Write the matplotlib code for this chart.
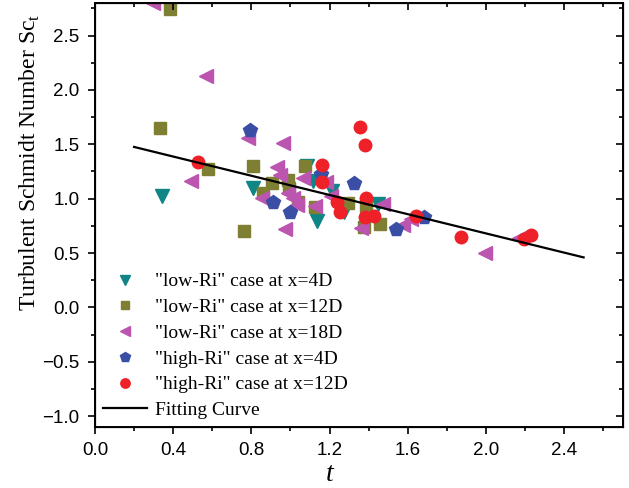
import numpy as np
import matplotlib
matplotlib.use("Agg")
import matplotlib.pyplot as plt
from matplotlib.ticker import MultipleLocator

# "low-Ri" case at x=4D
lo4_t = [0.344, 0.81, 1.087, 1.118, 1.138, 1.215, 1.272, 1.446]
lo4_sc = [1.02, 1.10, 1.30, 1.16, 0.79, 1.07, 0.88, 0.95]

# "low-Ri" case at x=12D
lo12_t = [0.385, 0.333, 0.58, 0.81, 0.764, 0.862, 0.908, 0.99, 0.995, 1.04,
          1.077, 1.128, 1.297, 1.385, 1.374, 1.456]
lo12_sc = [2.74, 1.65, 1.27, 1.30, 0.70, 1.05, 1.14, 1.17, 1.10, 0.97,
           1.30, 0.92, 0.96, 0.93, 0.74, 0.77]

# "low-Ri" case at x=18D
lo18_t = [0.297, 0.569, 0.492, 0.785, 0.964, 0.933, 0.949, 0.856, 0.99, 1.015,
          1.036, 1.062, 1.128, 0.974, 1.18, 1.205, 1.472, 1.359, 1.574, 1.615,
          1.995, 2.17]
lo18_sc = [2.80, 2.13, 1.16, 1.56, 1.51, 1.29, 1.22, 1.01, 1.055, 1.01,
           0.945, 1.19, 0.93, 0.72, 1.15, 1.02, 0.95, 0.73, 0.76, 0.81,
           0.50, 0.64]

# "high-Ri" case at x=4D
hi4_t = [0.795, 0.913, 1.0, 1.154, 1.323, 1.538, 1.682]
hi4_sc = [1.63, 0.97, 0.88, 1.23, 1.14, 0.72, 0.83]

# "high-Ri" case at x=12D
hi12_t = [0.528, 1.164, 1.164, 1.236, 1.256, 1.354, 1.379, 1.385, 1.38, 1.426,
          1.641, 1.872, 2.195, 2.231]
hi12_sc = [1.34, 1.31, 1.15, 0.97, 0.88, 1.66, 1.49, 1.01, 0.83, 0.84,
           0.84, 0.65, 0.625, 0.67]

# fitting curve: Sc_t = a + b*t, over t in [0.2, 2.5]
fit_a, fit_b = 1.564, -0.4417
fit_range = [0.2, 2.5]

sans = ["Liberation Sans", "DejaVu Sans"]
serif = ["Liberation Serif", "DejaVu Serif"]

fig = plt.figure(figsize=(6.29, 4.88), dpi=100)
ax = fig.add_axes([0.151, 0.125, 0.839, 0.869])

ax.plot(lo4_t, lo4_sc, "v", color="#0f8585", ms=10, ls="none",
        label='"low-Ri" case at x=4D')
ax.plot(lo12_t, lo12_sc, "s", color="#7f7f33", ms=8, ls="none",
        label='"low-Ri" case at x=12D')
ax.plot(lo18_t, lo18_sc, "<", color="#bb55b0", ms=10, ls="none",
        label='"low-Ri" case at x=18D')
ax.plot(hi4_t, hi4_sc, "p", color="#3a4ea6", ms=10, ls="none",
        label='"high-Ri" case at x=4D')
ax.plot(hi12_t, hi12_sc, "o", color="#ee2028", ms=9, ls="none",
        label='"high-Ri" case at x=12D')
tt = np.array(fit_range)
ax.plot(tt, fit_a + fit_b * tt, color="black", lw=1.6, label="Fitting Curve")

ax.set_xlim(0, 2.7)
ax.set_ylim(-1.1, 2.8)
ax.xaxis.set_major_locator(MultipleLocator(0.4))
ax.xaxis.set_minor_locator(MultipleLocator(0.2))
ax.yaxis.set_major_locator(MultipleLocator(0.5))
ax.yaxis.set_minor_locator(MultipleLocator(0.25))
ax.tick_params(which="major", direction="out", length=5, width=1.2,
               labelsize=13.5, pad=6)
ax.tick_params(which="minor", direction="out", length=3, width=1.2)
for lab in ax.get_xticklabels() + ax.get_yticklabels():
    lab.set_family(sans)
for sp in ax.spines.values():
    sp.set_linewidth(1.4)

# mirrored ticks pointing inwards on top and right
axt = ax.twiny()
axt.set_xlim(ax.get_xlim())
axt.xaxis.set_major_locator(MultipleLocator(0.4))
axt.xaxis.set_minor_locator(MultipleLocator(0.2))
axt.tick_params(which="major", direction="in", length=5, width=1.2,
                labeltop=False)
axt.tick_params(which="minor", direction="in", length=3, width=1.2)
axr = ax.twinx()
axr.set_ylim(ax.get_ylim())
axr.yaxis.set_major_locator(MultipleLocator(0.5))
axr.yaxis.set_minor_locator(MultipleLocator(0.25))
axr.tick_params(which="major", direction="in", length=5, width=1.2,
                labelright=False)
axr.tick_params(which="minor", direction="in", length=3, width=1.2)

ax.set_xlabel("t", family=serif, style="italic", fontsize=20)
ax.xaxis.label.set_verticalalignment("baseline")
ax.xaxis.set_label_coords(0.445, -0.128)
ax.set_ylabel("Turbulent Schmidt Number Sc$_\\mathregular{t}$", family=serif,
              fontsize=17)
ax.yaxis.set_label_coords(-0.1, 0.625)

ax.legend(loc="lower left", frameon=False, prop={"family": serif, "size": 14},
          handlelength=2.3, handletextpad=0.4, labelspacing=0.42,
          borderaxespad=0.15, borderpad=0.25, markerscale=0.75)

fig.savefig("out.png", dpi=100)
